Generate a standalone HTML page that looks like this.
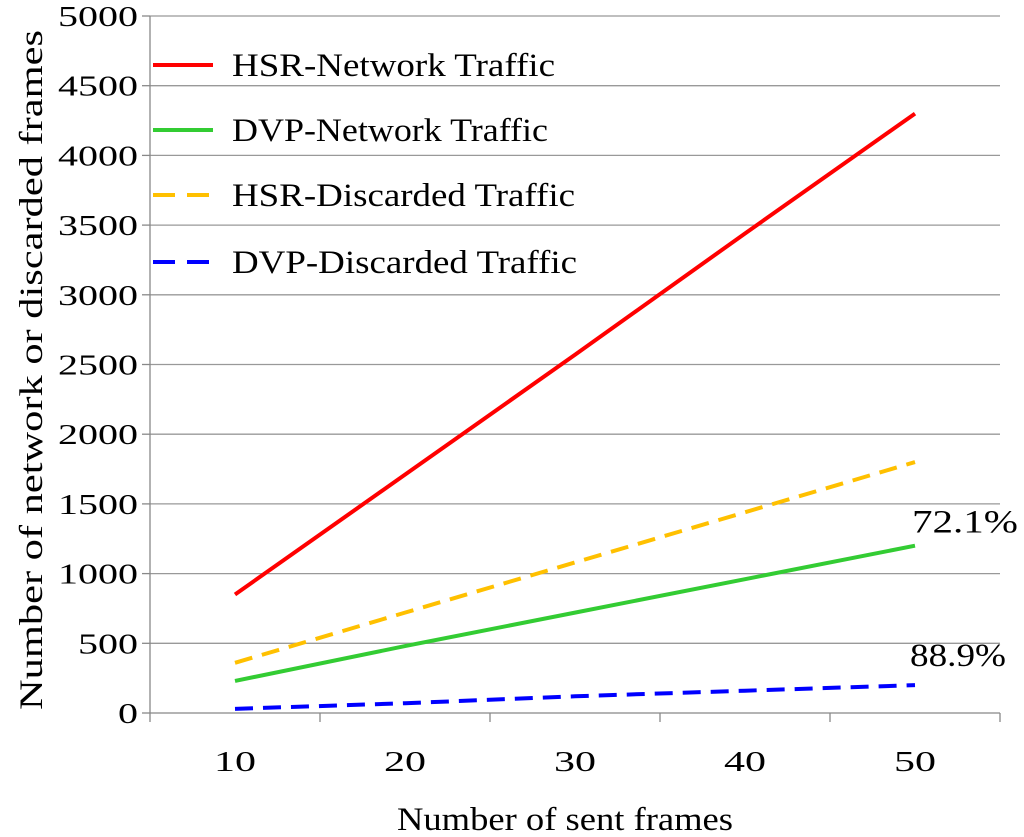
<!DOCTYPE html>
<html><head><meta charset="utf-8"><style>
html,body{margin:0;padding:0;background:#fff;}
svg{display:block;font-family:"Liberation Serif",serif;}
</style></head><body>
<svg id="chart" width="1024" height="837"></svg>
<script>
const categories=[10,20,30,40,50];
const hsrNetwork=[850,1710,2570,3440,4300];
const dvpNetwork=[230,480,720,960,1200];
const hsrDiscarded=[360,720,1080,1440,1800];
const dvpDiscarded=[30,70,120,160,200];
const yTicks=[0,500,1000,1500,2000,2500,3000,3500,4000,4500,5000];
const annotations=["72.1%","88.9%"];

const NS="http://www.w3.org/2000/svg";
const svg=document.getElementById('chart');
const X0=150,X1=1000,Y0=713,Y1=16,YMAX=5000;
const band=(X1-X0)/categories.length;
function xs(i){return X0+band*(i+0.5);}
function ys(v){return Y0-(v/YMAX)*(Y0-Y1);}
function mk(tag,attrs,parent){const e=document.createElementNS(NS,tag);for(const k in attrs)e.setAttribute(k,attrs[k]);(parent||svg).appendChild(e);return e;}

yTicks.forEach(t=>{
  const g=mk('line',{x1:X0,x2:X1,y1:ys(t),y2:ys(t),stroke:t===0?'#888':'#999','stroke-width':1.3});
  
  
  const tk=mk('line',{x1:X0-8,x2:X0,y1:ys(t),y2:ys(t),stroke:'#888','stroke-width':1.3});
  
  
  const w=String(t).length*20;
  const lb=mk('text',{x:X0-12,y:ys(t)+10,'text-anchor':'end','font-size':29,fill:'#000',textLength:w,lengthAdjust:'spacingAndGlyphs'});
  lb.textContent=t;
  
  
});
const ya=mk('line',{x1:X0,x2:X0,y1:Y1,y2:Y0,stroke:'#888','stroke-width':1.3});


for(let i=0;i<=categories.length;i++){
  const x=X0+band*i;
  const t=mk('line',{x1:x,x2:x,y1:Y0,y2:Y0+9,stroke:'#888','stroke-width':1.3});
  
  
}
categories.forEach((c,i)=>{
  const lb=mk('text',{x:xs(i),y:771,'text-anchor':'middle','font-size':29,fill:'#000',textLength:42,lengthAdjust:'spacingAndGlyphs'});
  lb.textContent=c;
  
  
});

const series=[
  {name:'hsr-network-line',data:hsrNetwork,color:'#ff0000',dash:''},
  {name:'dvp-network-line',data:dvpNetwork,color:'#33cc33',dash:''},
  {name:'hsr-discarded-line',data:hsrDiscarded,color:'#ffc000',dash:'18,10'},
  {name:'dvp-discarded-line',data:dvpDiscarded,color:'#0000ff',dash:'18,10'}
];
series.forEach(s=>{
  const p=mk('polyline',{points:s.data.map((v,i)=>xs(i)+','+ys(v)).join(' '),fill:'none',stroke:s.color,'stroke-width':4,'stroke-dasharray':s.dash});
  
  
});

const a1=mk('text',{x:912,y:ys(dvpNetwork[4])-13,'font-size':33,fill:'#000',textLength:106,lengthAdjust:'spacingAndGlyphs'});
a1.textContent=annotations[0];


const a2=mk('text',{x:910,y:ys(dvpDiscarded[4])-19,'font-size':33,fill:'#000',textLength:96,lengthAdjust:'spacingAndGlyphs'});
a2.textContent=annotations[1];



const legendNames=['HSR-Network Traffic','DVP-Network Traffic','HSR-Discarded Traffic','DVP-Discarded Traffic'];
const legendW=[323,316,343,345];
const legendY=[65,130,195,262];
series.forEach((s,i)=>{
  const l=mk('line',{x1:153,x2:213,y1:legendY[i],y2:legendY[i],stroke:s.color,'stroke-width':4,'stroke-dasharray':s.dash?'22,12':''});
  
  
  const t=mk('text',{x:232,y:legendY[i]+11,'font-size':33,fill:'#000',textLength:legendW[i],lengthAdjust:'spacingAndGlyphs'});
  t.textContent=legendNames[i];
  
  
});

const yt=mk('text',{x:0,y:0,'font-size':33,'text-anchor':'middle',transform:'translate(42,370) rotate(-90)',fill:'#000',textLength:680,lengthAdjust:'spacingAndGlyphs'});
yt.textContent='Number of network or discarded frames';


const xt=mk('text',{x:565,y:830,'font-size':33,'text-anchor':'middle',fill:'#000',textLength:336,lengthAdjust:'spacingAndGlyphs'});
xt.textContent='Number of sent frames';


</script>
</body></html>
